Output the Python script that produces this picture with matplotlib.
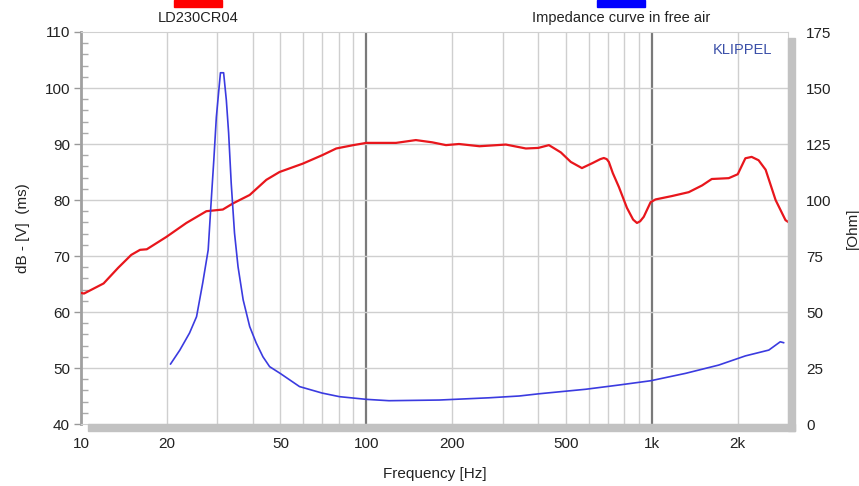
import matplotlib
matplotlib.use("Agg")

import matplotlib.pyplot as plt
from matplotlib.patches import Rectangle
from matplotlib.ticker import FixedLocator, MultipleLocator, NullFormatter

plt.rcParams["font.family"] = ["Liberation Sans", "DejaVu Sans"]

# ── data ───────────────────────────────────────────────────────────
freq_spl = [10, 10.25, 12, 13.5, 15, 16.1, 17, 19.9, 23.4, 27.5, 31.4, 34.1,
            39, 44.6, 49.6, 59.9, 70, 78.4, 90, 100, 127, 149, 170, 190, 211,
            249, 308, 362, 400, 436, 480, 520, 569, 620, 660, 679, 695, 707,
            730, 767, 818, 860, 887, 910, 937, 990, 1030, 1175, 1347, 1500,
            1622, 1860, 2000, 2127, 2237, 2366, 2505, 2714, 2940, 3000]
spl_db = [63.4, 63.3, 65.1, 67.9, 70.2, 71.1, 71.2, 73.4, 75.9, 78.0, 78.3,
          79.4, 80.9, 83.6, 85.0, 86.5, 88.0, 89.2, 89.8, 90.2, 90.2, 90.7,
          90.3, 89.8, 90.0, 89.6, 89.9, 89.2, 89.3, 89.8, 88.5, 86.8, 85.7,
          86.6, 87.3, 87.5, 87.3, 86.8, 84.8, 82.3, 78.6, 76.5, 75.9, 76.2,
          77.0, 79.6, 80.1, 80.7, 81.4, 82.6, 83.75, 83.9, 84.6, 87.45, 87.7,
          87.1, 85.4, 80.0, 76.4, 76.1]

freq_imp = [20.6, 22.2, 24, 25.4, 26.7, 27.9, 28.6, 29.2, 29.8, 30.4, 30.8,
            31.6, 32.3, 32.9, 33.6, 34.5, 35.5, 37, 39, 41.1, 43.4, 45.8, 50,
            58.3, 70, 80.5, 100, 120, 180, 269, 343, 403, 586, 767, 990, 1312,
            1715, 2127, 2570, 2818, 2895]
imp_ohm = [26.8, 33.0, 40.6, 47.9, 63.0, 77.7, 100.0, 117.9, 137.0, 149.0,
           156.8, 156.8, 144.6, 130.0, 107.4, 85.3, 70.2, 55.4, 43.5, 36.2,
           30.0, 25.6, 22.5, 16.7, 13.8, 12.2, 11.0, 10.4, 10.7, 11.7, 12.5,
           13.5, 15.5, 17.4, 19.3, 22.6, 26.3, 30.4, 33.0, 36.7, 36.3]

x_ticks = [10, 20, 50, 100, 200, 500, 1000, 2000]
x_tick_labels = ["10", "20", "50", "100", "200", "500", "1k", "2k"]
x_grid = [20, 30, 40, 50, 60, 70, 80, 90, 200, 300, 400, 500, 600, 700,
          800, 900, 2000]

RED = "#e8161c"
BLUE = "#3b3be0"
GRID = "#cfcfcf"
SHADOW = "#c2c2c2"

W, H = 859, 486
L, R, T, B = 81, 788, 32, 424


def fx(px):
    return px / W


def fy(py):
    return 1 - py / H


fig = plt.figure(figsize=(W / 100, H / 100), dpi=100)

# 3D shadow behind the plot frame
fig.patches.append(Rectangle((fx(88), fy(431)), fx(795) - fx(88), fy(424) - fy(431),
                             transform=fig.transFigure, color=SHADOW, zorder=0))
fig.patches.append(Rectangle((fx(788), fy(431)), fx(795) - fx(788), fy(38) - fy(431),
                             transform=fig.transFigure, color=SHADOW, zorder=0))

ax = fig.add_axes([fx(L), fy(B), fx(R) - fx(L), fy(T) - fy(B)])
ax.set_xscale("log")
ax.set_xlim(10, 3000)
ax.set_ylim(40, 110)

for f in x_grid:
    ax.axvline(f, color=GRID, lw=1.0, zorder=1)
for f in (100, 1000):
    ax.axvline(f, color="#7a7a7a", lw=1.6, zorder=1)
for v in range(50, 110, 10):
    ax.axhline(v, color=GRID, lw=1.0, zorder=1)

ax.plot(freq_spl, spl_db, color=RED, lw=1.6, zorder=4)

ax.xaxis.set_major_locator(FixedLocator(x_ticks))
ax.set_xticklabels(x_tick_labels)
ax.xaxis.set_minor_formatter(NullFormatter())
ax.tick_params(axis="x", which="both", length=0, pad=9, labelsize=11,
               labelcolor="#222222")

ax.yaxis.set_major_locator(MultipleLocator(10))
ax.yaxis.set_minor_locator(MultipleLocator(2))
ax.tick_params(axis="y", which="major", direction="out", length=5, width=1,
               color="#999999", labelsize=11, labelcolor="#222222", pad=3)
ax.tick_params(axis="y", which="minor", direction="in", length=5, width=1,
               color="#aaaaaa")

ax.spines["left"].set_color("#a0a0a0")
ax.spines["left"].set_linewidth(2.0)
for s in ("top", "right", "bottom"):
    ax.spines[s].set_color("#d0d0d0")
    ax.spines[s].set_linewidth(0.8)

ax.set_xlabel("Frequency [Hz]", fontsize=11, color="#222222", labelpad=12)
ax.set_ylabel("dB - [V]  (ms)", fontsize=11, color="#222222", labelpad=10)

ax2 = ax.twinx()
ax2.set_ylim(0, 175)
ax2.plot(freq_imp, imp_ohm, color=BLUE, lw=1.2, zorder=3)
ax2.yaxis.set_major_locator(MultipleLocator(25))
ax2.tick_params(axis="y", length=0, pad=13, labelsize=11, labelcolor="#222222")
ax2.set_ylabel("[Ohm]", fontsize=11, color="#222222", labelpad=10)
for s in ax2.spines.values():
    s.set_visible(False)

ax.text(0.977, 0.955, "KLIPPEL", transform=ax.transAxes, ha="right", va="center",
        fontsize=10.5, color="#3a4fa8")

# legend strip above the plot
fig.patches.append(Rectangle((fx(174), fy(7)), fx(48), fy(0) - fy(7),
                             transform=fig.transFigure, color="#ff0000"))
fig.patches.append(Rectangle((fx(597), fy(7)), fx(48), fy(0) - fy(7),
                             transform=fig.transFigure, color="#0000ff"))
fig.text(fx(198), fy(18), "LD230CR04", ha="center", va="center", fontsize=10.5,
         color="#222222")
fig.text(fx(621), fy(18), "Impedance curve in free air", ha="center", va="center",
         fontsize=10.5, color="#222222")

fig.savefig("out.png", dpi=100)
